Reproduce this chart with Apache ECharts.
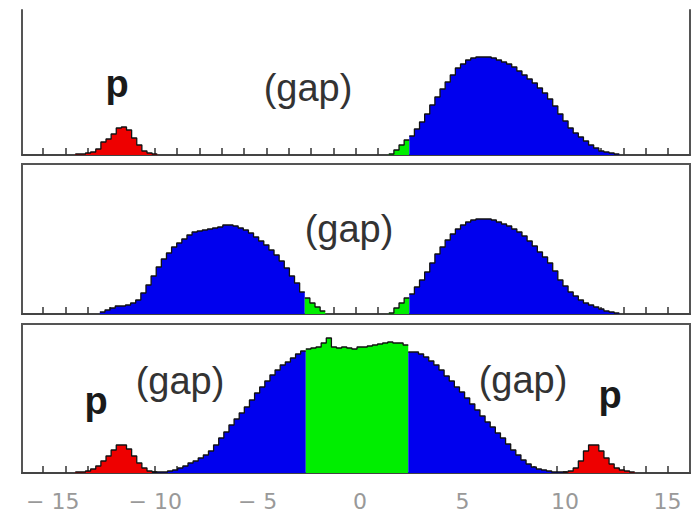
<!DOCTYPE html>
<html><head><meta charset="utf-8">
<script src="https://cdn.jsdelivr.net/npm/echarts@6/dist/echarts.min.js"></script>
<style>html,body{margin:0;padding:0;background:#fff}#c{width:697px;height:516px}</style>
</head><body><div id="c"></div>
<script>
// ---------- data (bin width 0.25, each series given by its left edge + bin heights) ----------
const BIN = 0.25;
const xTickLabels = [-15, -10, -5, 0, 5, 10, 15];

// panel 1 (top)
const p1RedStart = -13.9;
const p1Red = [1, 1, 2, 3, 6, 13, 16, 21, 27, 28, 25, 17, 10, 4, 2, 1];
const p1GreenStart = 1.4;
const p1Green = [1, 5, 10, 15];
const p1BlueStart = 2.4;
const p1Blue = [19, 26, 33, 41, 50, 58, 66, 73, 80, 87, 91, 95, 97, 98, 98, 98, 97, 95, 93, 91,
                88, 84, 80, 76, 72, 67, 62, 56, 49, 41, 34, 27, 22, 18, 14, 10, 7, 4, 3, 2, 1];

// panel 2 (middle)
const p2BlueLStart = -12.7;
const p2BlueL = [2, 4, 6, 8, 8, 9, 11, 14, 21, 29, 38, 47, 55, 61, 67, 71, 75, 79, 82, 83,
                 84, 85, 86, 87, 89, 89, 88, 86, 84, 81, 77, 73, 69, 64, 59, 53, 46, 38, 31, 22];
const p2GreenLStart = -2.7;
const p2GreenL = [16, 11, 7, 3];
const p2GreenRStart = 1.4;
const p2GreenR = [1, 6, 11, 16];
const p2BlueRStart = 2.4;
const p2BlueR = [20, 27, 34, 42, 51, 60, 67, 74, 80, 85, 89, 92, 94, 95, 95, 95, 94, 92, 90, 88,
                 85, 82, 78, 73, 68, 62, 57, 51, 43, 34, 28, 22, 18, 14, 11, 9, 7, 5, 3, 2, 1];

// panel 3 (bottom)
const p3RedLStart = -13.9;
const p3RedL = [1, 1, 2, 4, 7, 12, 17, 23, 28, 28, 24, 17, 10, 5, 2, 1];
const p3BlueLStart = -10.15;
const p3BlueL = [1, 1, 1, 2, 3, 5, 7, 10, 12, 15, 18, 22, 28, 35, 41, 48, 54, 60, 66, 73,
                 80, 86, 92, 98, 103, 108, 111, 115, 119, 122];
const p3GreenStart = -2.65;
const p3Green = [124, 125, 126, 130, 135, 126, 125, 126, 125, 124, 126, 126, 127, 128, 129, 130, 131, 130, 130, 128];
const p3BlueRStart = 2.35;
const p3BlueR = [121, 121, 119, 116, 112, 108, 103, 97, 92, 86, 81, 75, 69, 63, 57, 51, 46, 40, 35, 29,
                 23, 18, 13, 9, 6, 4, 3, 2, 1, 1, 1];
const p3RedRStart = 9.9;
const p3RedR = [1, 2, 5, 12, 22, 28, 28, 22, 15, 9, 5, 3, 2, 1];

// ---------- colours / layout ----------
const RED = '#ee0000', GREEN = '#00ee00', BLUE = '#0000ee';
const X_MIN = -16.5, X_MAX = 16.1;
const grids = [
  {left: 22, right: 7, top: 10, height: 145, ymax: 145},
  {left: 22, right: 7, top: 164, height: 150, ymax: 150},
  {left: 22, right: 7, top: 324, height: 149, ymax: 149}
];
const minorTicks = [];
for (let k = 0; k <= 28; k++) minorTicks.push(+(-15.47 + 1.0894 * k).toFixed(3));

function hist(start, h) {
  const d = [];
  for (let i = 0; i < h.length; i++) d.push([start + i * BIN, h[i]]);
  d.push([start + h.length * BIN, h[h.length - 1]]);
  return d;
}
function ser(gi, start, h, color) {
  return {
    type: 'line', xAxisIndex: gi, yAxisIndex: gi, data: hist(start, h), step: 'end',
    symbol: 'none', silent: true, animation: false,
    lineStyle: {color: '#111', width: 1.3},
    areaStyle: {color: color, opacity: 1}
  };
}

const xAxes = grids.map((g, i) => ({
  gridIndex: i, type: 'value', min: X_MIN, max: X_MAX,
  splitLine: {show: false},
  axisLine: {show: true, onZero: false, lineStyle: {color: '#444', width: 2}},
  axisTick: {show: true, inside: true, length: 7, customValues: minorTicks,
             lineStyle: {color: '#333', width: 1.5}},
  axisLabel: {show: i === 2, customValues: xTickLabels, margin: 17,
              color: '#999', fontSize: 22, lineHeight: 22, fontFamily: 'DejaVu Sans',
              formatter: v => (v < 0 ? '\u2212 ' + Math.abs(v) : String(v))}
}));
const yAxes = grids.map((g, i) => ({
  gridIndex: i, type: 'value', min: 0, max: g.ymax, position: 'left',
  splitLine: {show: false}, axisTick: {show: false}, axisLabel: {show: false},
  axisLine: {show: i === 0, onZero: false, lineStyle: {color: '#555', width: 2}}
}));
yAxes.push({gridIndex: 0, type: 'value', position: 'right', min: 0, max: grids[0].ymax,
  splitLine: {show: false}, axisTick: {show: false}, axisLabel: {show: false},
  axisLine: {show: true, onZero: false, lineStyle: {color: '#555', width: 2}}});

function txt(x, y, text, bold) {
  return {type: 'text', z: 100, silent: true,
    style: {x: x, y: y, text: text, align: 'center', verticalAlign: 'middle',
            fill: bold ? '#1a1a1a' : '#333',
            font: (bold ? 'bold ' : '') + '38px "Liberation Sans", Arial, sans-serif'}};
}

const option = {
  backgroundColor: '#fff',
  animation: false,
  grid: grids.map((g, i) => ({left: g.left, right: g.right, top: g.top, height: g.height,
    show: i > 0, borderColor: '#555', borderWidth: 2, backgroundColor: 'transparent'})),
  xAxis: xAxes,
  yAxis: yAxes,
  series: [
    ser(0, p1RedStart, p1Red, RED),
    ser(0, p1GreenStart, p1Green, GREEN),
    ser(0, p1BlueStart, p1Blue, BLUE),
    ser(1, p2BlueLStart, p2BlueL, BLUE),
    ser(1, p2GreenLStart, p2GreenL, GREEN),
    ser(1, p2GreenRStart, p2GreenR, GREEN),
    ser(1, p2BlueRStart, p2BlueR, BLUE),
    ser(2, p3RedLStart, p3RedL, RED),
    ser(2, p3BlueLStart, p3BlueL, BLUE),
    ser(2, p3GreenStart, p3Green, GREEN),
    ser(2, p3BlueRStart, p3BlueR, BLUE),
    ser(2, p3RedRStart, p3RedR, RED)
  ],
  graphic: [
    txt(117, 84, 'p', true),
    txt(308, 88, '(gap)', false),
    txt(349, 229, '(gap)', false),
    txt(96, 401, 'p', true),
    txt(180, 381, '(gap)', false),
    txt(523, 380, '(gap)', false),
    txt(610, 395, 'p', true)
  ]
};
const chart = echarts.init(document.getElementById('c'), null, {renderer: 'svg'});
chart.setOption(option);
</script>
</body></html>
